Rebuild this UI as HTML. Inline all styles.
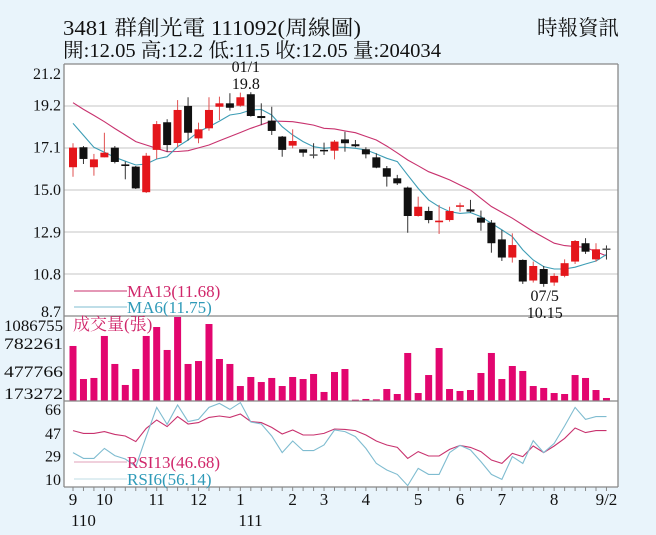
<!DOCTYPE html>
<html><head><meta charset="utf-8">
<style>
html,body{margin:0;padding:0;background:#e9f4fb;}
svg{display:block;font-family:"Liberation Serif","Noto Serif CJK SC","Noto Sans CJK TC",serif;}
</style></head>
<body>
<svg id="chart" width="656" height="535" viewBox="0 0 656 535" xmlns="http://www.w3.org/2000/svg">
<rect x="0" y="0" width="656" height="535" fill="#e9f4fb"/>
<text x="63" y="35" font-size="21" textLength="298" lengthAdjust="spacingAndGlyphs" fill="#111">3481  群創光電 111092(周線圖)</text>
<text x="63" y="57" font-size="20" textLength="378" lengthAdjust="spacingAndGlyphs" fill="#111">開:12.05 高:12.2 低:11.5 收:12.05 量:204034</text>
<text x="537" y="35" font-size="21" textLength="82" lengthAdjust="spacingAndGlyphs" fill="#111">時報資訊</text>
<rect x="64" y="64" width="554" height="423" fill="#fff"/>
<g id="grid"></g>
<g id="ma"></g>
<g id="candles"></g>
<g id="vol"></g>
<g id="rsi"></g>
<g id="axes"></g>
</svg>
<script>
const opens  = [16.08,17.07,16.08,16.57,17.05,16.22,16.11,14.84,16.94,18.31,17.28,19.12,17.51,18.01,19.08,19.25,19.13,19.70,18.62,18.39,17.60,17.15,16.97,16.72,16.94,16.90,17.46,17.22,16.97,16.57,16.03,15.53,15.07,13.66,13.91,13.35,13.46,14.12,13.99,13.58,13.33,12.50,11.60,11.48,10.46,11.03,10.36,10.69,11.40,12.31,11.51,12.05];
const closes = [17.05,16.49,16.47,16.80,16.34,16.14,15.03,16.65,18.22,17.18,18.92,17.79,17.96,18.92,19.25,19.03,19.55,18.62,18.52,17.88,16.94,17.38,16.80,16.70,16.90,17.35,17.27,17.12,16.72,16.06,15.61,15.28,13.66,14.12,13.46,13.43,13.91,14.19,13.88,13.33,12.31,11.60,12.22,10.41,11.18,10.29,10.69,11.32,12.42,11.89,12.01,12.05];
const highs  = [17.27,17.13,16.74,17.79,17.13,16.36,16.14,16.79,18.37,18.46,19.41,19.55,18.29,19.55,19.58,19.75,19.78,19.80,19.25,19.08,17.63,17.96,16.97,17.27,17.30,17.43,17.84,17.43,17.07,16.77,16.14,15.70,15.12,14.62,14.12,14.21,14.12,14.32,14.46,13.93,13.46,12.97,12.80,11.51,11.40,11.18,10.82,11.51,12.47,12.56,12.31,12.20];
const lows   = [15.61,16.24,15.66,16.57,16.27,15.48,15.00,14.80,16.49,16.84,17.07,17.40,17.27,17.89,18.42,18.89,19.08,18.59,18.17,17.68,16.60,17.02,16.60,16.52,16.69,16.47,16.85,17.07,16.52,16.03,15.12,15.20,12.83,13.63,13.30,12.77,13.38,13.88,13.83,12.93,11.84,11.43,11.35,10.29,10.36,10.15,10.20,10.62,11.28,11.78,11.40,11.50];
const ma13 = [19.28,18.95,18.65,18.34,18.00,17.68,17.35,17.18,17.02,16.85,16.86,16.90,17.04,17.18,17.39,17.60,17.80,18.01,18.19,18.37,18.36,18.34,18.26,18.17,18.01,17.98,17.88,17.79,17.61,17.43,17.13,16.79,16.44,16.15,15.86,15.66,15.45,15.20,14.95,14.54,14.13,13.84,13.55,13.22,12.89,12.60,12.31,12.19,12.14,12.11,11.89,11.68];
const ma6  = [18.26,17.66,17.07,16.82,16.57,16.38,16.19,16.24,16.49,16.60,17.10,17.43,17.84,18.09,18.37,18.67,18.75,18.92,18.95,18.67,18.09,17.68,17.35,17.10,17.02,17.07,17.07,17.02,16.94,16.74,16.52,16.36,15.69,15.03,14.46,14.12,13.88,13.79,13.83,13.63,13.30,12.97,12.64,11.98,11.48,11.15,11.03,11.03,11.12,11.28,11.43,11.75];
const volumes = [786000,314000,329000,929000,529000,229000,457000,929000,1057000,729000,1200000,529000,571000,1100000,600000,529000,214000,343000,271000,329000,214000,343000,314000,386000,129000,414000,457000,19000,29000,24000,171000,100000,686000,114000,371000,757000,171000,143000,157000,400000,686000,314000,500000,429000,214000,186000,114000,100000,371000,329000,157000,43000];
const rsi13 = [48.7,46.5,46.5,47.9,45.7,44.4,39.9,50.5,57.2,51.9,59.9,54.0,55.1,59.3,60.4,59.3,62.0,55.9,55.1,51.3,46.0,49.2,45.2,45.2,46.5,50.0,49.7,48.7,45.2,40.4,37.2,35.3,26.5,31.9,28.4,28.4,33.7,36.9,35.3,31.9,25.2,22.5,30.5,27.9,36.4,31.1,36.4,42.5,50.8,47.1,48.7,48.7];
const rsi6 = [31.1,26.5,26.5,34.5,28.7,26.0,19.9,43.9,67.3,53.7,69.2,55.9,57.7,67.3,70.5,65.7,71.1,55.6,54.0,44.4,31.1,40.4,32.7,32.7,37.2,49.2,47.9,43.9,34.5,22.5,17.2,13.7,4.7,18.5,13.7,13.7,31.1,36.9,33.2,23.9,13.7,9.7,27.9,22.5,40.7,31.1,38.5,52.4,67.3,57.7,59.9,59.9];
const priceTicks = [21.2,19.2,17.1,15.0,12.9,10.8,8.7];
const volTicks = ["1086755","782261","477766","173272"];
const volTickVals = [1086755,782261,477766,173272];
const rsiTicks = [66,47,29,10];
const monthLabels = ["9","10","11","12","1","2","3","4","5","6","7","8","9/2"];
const monthIdx = [0,3,8,12,16,21,24,28,33,37,41,46,51];

const NS="http://www.w3.org/2000/svg";
const X0=73, DX=10.46;
const xAt=i=>X0+i*DX;
const yP=p=>316-(p-8.7)*(252/12.5);
const yV=v=>401-v/1200000*84;
const yR=r=>479-(r-10)*1.25;
function mk(tag,attrs,parent,text){const e=document.createElementNS(NS,tag);for(const k in attrs)e.setAttribute(k,attrs[k]);if(text!==undefined)e.textContent=text;document.getElementById(parent).appendChild(e);return e;}

// grid
for(let k=1;k<6;k++){
  const y=64+k*42;
  const g=mk('line',{x1:64,x2:618,y1:y,y2:y,stroke:'#d9d9d9','stroke-width':1.5},'grid');
  
  
}
// MA lines
function poly(arr,fy,color,name,parent){
  const pts=arr.map((v,i)=>xAt(i).toFixed(1)+','+fy(v).toFixed(1)).join(' ');
  const p=mk('polyline',{points:pts,fill:'none',stroke:color,'stroke-width':1.1},parent);
  
  
}
poly(ma13,yP,'#c8326e','ma13-line','ma');
poly(ma6,yP,'#3d9db5','ma6-line','ma');
// candles
for(let i=0;i<opens.length;i++){
  const o=opens[i],c=closes[i],up=c>o,flat=Math.abs(c-o)<0.03;
  const col=flat?'#555':(up?'#e4161b':'#111');
  const wick=mk('line',{x1:xAt(i),x2:xAt(i),y1:yP(highs[i]),y2:yP(lows[i]),stroke:up?'#e05050':'#333','stroke-width':1},'candles');
  
  
  const top=yP(Math.max(o,c)),bot=yP(Math.min(o,c));
  const r=mk('rect',{x:xAt(i)-4,y:top,width:8,height:Math.max(1.5,bot-top),fill:col},'candles');
  
  
}
// volume
for(let i=0;i<volumes.length;i++){
  const b=mk('rect',{x:xAt(i)-3.5,y:yV(volumes[i]),width:7,height:401-yV(volumes[i]),fill:'#e2066f'},'vol');
  
  
}
// rsi
poly(rsi13,yR,'#c8326e','rsi13-line','rsi');
poly(rsi6,yR,'#7fbcd0','rsi6-line','rsi');

// frame & axes
const ax='axes';
[[64,64,64,487],[618,64,618,487],[64,316,618,316],[64,401,618,401],[64,487,618,487],[64,64,618,64]].forEach(l=>{
  const e=mk('line',{x1:l[0],y1:l[1],x2:l[2],y2:l[3],stroke:'#888','stroke-width':1.3},ax);
  
  
});
priceTicks.forEach((t,k)=>{
  let y=yP(t)+6; if(k===0)y=79; if(k===priceTicks.length-1)y=317;
  const e=mk('text',{x:61,y:y,'font-size':16,'text-anchor':'end',fill:'#111'},ax,t.toFixed(1));
  
  
});
const volLabelY=[331,349,377,399];
volTicks.forEach((t,k)=>{
  const e=mk('text',{x:63,y:volLabelY[k],'font-size':16,'text-anchor':'end',textLength:59,lengthAdjust:'spacingAndGlyphs',fill:'#111'},ax,t);
  
  
});
rsiTicks.forEach((t,k)=>{
  let y=yR(t)+6; if(k===0)y=415;
  const e=mk('text',{x:61,y:y,'font-size':16,'text-anchor':'end',fill:'#111'},ax,String(t));
  
  
});
for(let i=0;i<opens.length;i++){
  const t=mk('line',{x1:xAt(i),x2:xAt(i),y1:487,y2:491,stroke:'#888'},ax);
  
  
}
monthLabels.forEach((m,k)=>{
  const e=mk('text',{x:xAt(monthIdx[k]),y:505,'font-size':17,'text-anchor':'middle',fill:'#111'},ax,m);
  
  
});
[['110',0],['111',16]].forEach(a=>{
  const e=mk('text',{x:xAt(a[1])-2,y:526,'font-size':17,'text-anchor':'start',fill:'#111'},ax,a[0]);
  
  
});
// annotations
function lab(txt,x,y,name,color,size,anchor){const e=mk('text',{x:x,y:y,'font-size':size||16,'text-anchor':anchor||'middle',fill:color||'#111'},ax,txt);return e;}
lab('01/1',xAt(17)-5,72,'high-date-label');
lab('19.8',xAt(17)-5,89,'high-value-label');
lab('07/5',xAt(45)+1,301,'low-date-label');
lab('10.15',xAt(45)+1,318,'low-value-label');
// legends
function leg(x1,x2,y,color,txt,name,tcolor){
  const l=mk('line',{x1:x1,x2:x2,y1:y,y2:y,stroke:color,'stroke-width':1},ax);
  
  
  lab(txt,x2,y+6,name,tcolor,17,'start');
}
leg(74,127,291,'#c8326e','MA13(11.68)','ma13-legend','#d0266a');
leg(74,127,307,'#7fbcd0','MA6(11.75)','ma6-legend','#2e9ab8');
lab('成交量(張)',73,330,'volume-title','#d0266a',17,'start');
leg(74,127,462,'#e0a0b8','RSI13(46.68)','rsi13-legend','#d0266a');
leg(74,127,479,'#bfdde6','RSI6(56.14)','rsi6-legend','#2e9ab8');
</script>
</body></html>
